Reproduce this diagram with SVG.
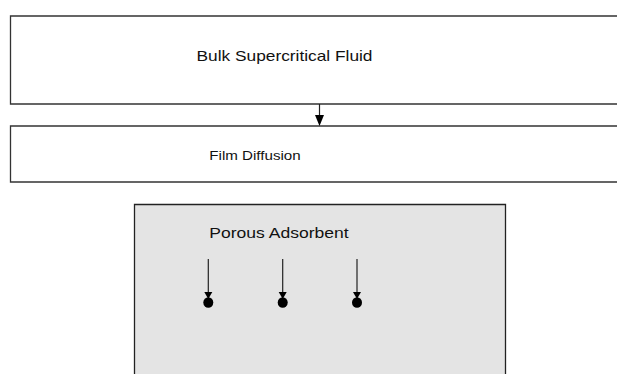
<svg xmlns="http://www.w3.org/2000/svg" width="617" height="374" viewBox="0 0 617 374">
<style>
.box{fill:#fff;stroke:#333;stroke-width:1.3}
.txt{font-family:"Liberation Sans",Arial,sans-serif;fill:#111}
.ln{stroke:#222;stroke-width:1.2;fill:none}
.dot{fill:#000}
</style>
<rect width="617" height="374" fill="#fff"/>
<g id="bulk">
<path class="box" d="M630,16 L10.5,16 L10.5,104 L630,104"/>
<text class="txt" x="196.5" y="60.5" font-size="14.5" textLength="176" lengthAdjust="spacingAndGlyphs">Bulk Supercritical Fluid</text>
</g>
<g id="film">
<path class="box" d="M630,126 L10.5,126 L10.5,182 L630,182"/>
<text class="txt" x="209.3" y="159.5" font-size="12.5" textLength="91.4" lengthAdjust="spacingAndGlyphs">Film Diffusion</text>
</g>
<g id="porous">
<path d="M134.5,380 L134.5,204.5 L505.5,204.5 L505.5,380" fill="#e4e4e4" stroke="#222" stroke-width="1.3"/>
<text class="txt" x="209.3" y="237.5" font-size="15.5" textLength="139.4" lengthAdjust="spacingAndGlyphs">Porous Adsorbent</text>
<ellipse class="dot" cx="208.3" cy="302.5" rx="5" ry="5.3"/>
<ellipse class="dot" cx="282.7" cy="302.5" rx="5" ry="5.3"/>
<ellipse class="dot" cx="357" cy="302.5" rx="5" ry="5.3"/>
</g>
<g id="connectors">
<line class="ln" x1="319.5" y1="104" x2="319.5" y2="117"/>
<path d="M315,115 L324,115 L319.5,126 Z" fill="#000"/>
<line class="ln" x1="208.3" y1="259" x2="208.3" y2="294"/>
<path d="M204.3,292 L212.3,292 L208.3,299 Z" fill="#000"/>
<line class="ln" x1="282.7" y1="259" x2="282.7" y2="294"/>
<path d="M278.7,292 L286.7,292 L282.7,299 Z" fill="#000"/>
<line class="ln" x1="357" y1="259" x2="357" y2="294"/>
<path d="M353,292 L361,292 L357,299 Z" fill="#000"/>
</g>
</svg>
